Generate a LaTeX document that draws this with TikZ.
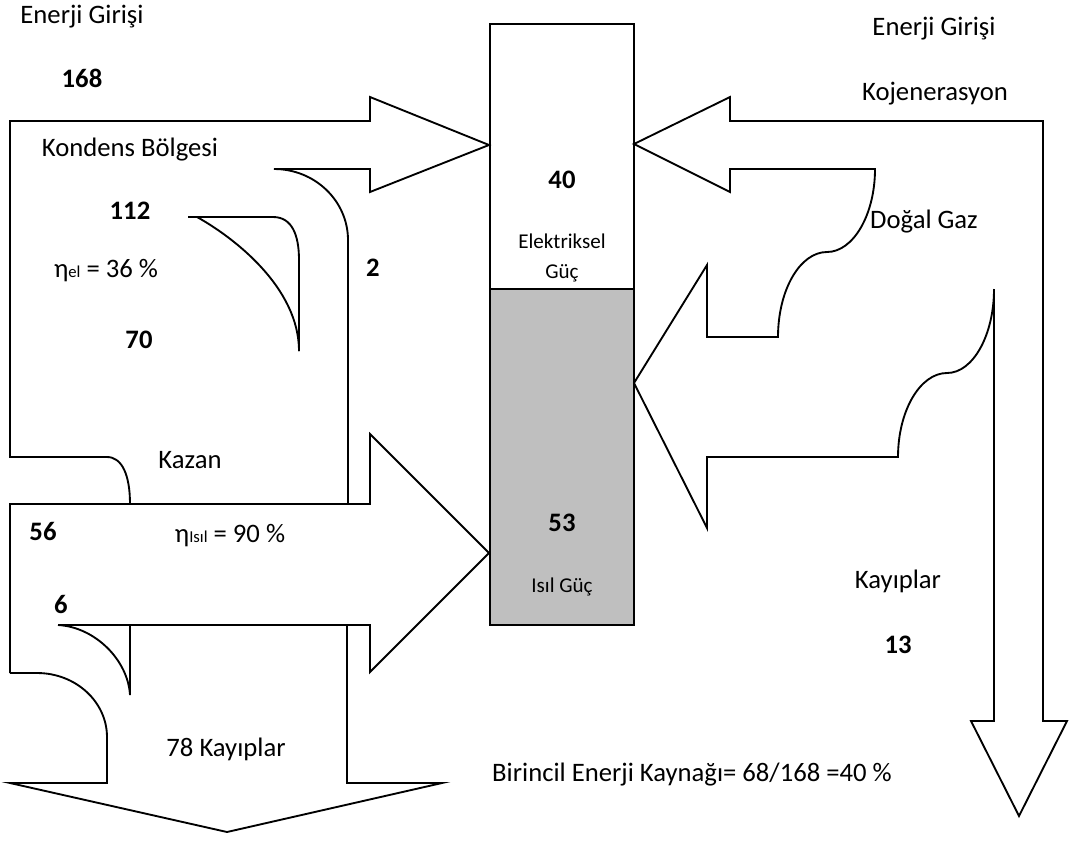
\documentclass[tikz,border=0pt]{standalone}
\usepackage{fontspec}
\setmainfont{Carlito}
\definecolor{heatgray}{RGB}{191,191,191}
\begin{document}
\begin{tikzpicture}[x=0.75pt,y=-0.75pt,
  flow/.style={draw=black,line width=1.4pt,line join=miter},
  lbl/.style={inner sep=0pt,anchor=base,font=\fontsize{20}{24}\selectfont},
  num/.style={inner sep=0pt,anchor=base,font=\fontsize{20}{24}\selectfont\bfseries},
  small/.style={inner sep=0pt,anchor=base,font=\fontsize{15.8}{19}\selectfont}]
\useasboundingbox (0,0) rectangle (1069,843);

% power column: electrical (top) and thermal (bottom)
\draw[flow,fill=white] (490,24) rectangle (634,289);
\draw[flow,fill=heatgray] (490,289) rectangle (634,625);

% condensing plant: electrical arrow with the branch to the losses
\draw[flow] (348,504) -- (348,240) .. controls (348,201) and (315,169) .. (274,169)
  -- (370,169) -- (370,192) -- (489,145) -- (370,97) -- (370,121) -- (10,121)
  -- (10,457) -- (107,457) .. controls (122,457) and (130,475) .. (130,504);
% internal loss hook of the condensing plant
\draw[flow] (188,217) -- (273,217) .. controls (292,217) and (299,235) .. (299,260) -- (299,351);
\draw[flow] (197,217) .. controls (233,237) and (299,287) .. (299,351);

% boiler: thermal arrow
\draw[flow] (10,673) -- (10,504) -- (370,504) -- (370,434) -- (489,553) -- (370,672)
  -- (370,625) -- (58,625);
\draw[flow] (58,625) .. controls (95,627) and (128,660) .. (130,695) -- (130,625);
% common losses arrow
\draw[flow] (10,673) -- (37,673) .. controls (76,673) and (107,702) .. (107,737)
  -- (107,783) -- (10,783) -- (227,832) -- (442,783) -- (347,783) -- (347,625);

% cogeneration: natural gas split into electrical, thermal and losses
\draw[flow] (994,289) -- (994,721) -- (971,721) -- (1019,816) -- (1067,721) -- (1043,721)
  -- (1043,121) -- (730,121) -- (730,97) -- (634,144) -- (730,192) -- (730,169)
  -- (875,169) .. controls (875,215) and (853,252) .. (827,252)
  .. controls (800,252) and (778,290) .. (778,337) -- (707,337) -- (707,265)
  -- (634,383) -- (707,528) -- (707,457) -- (898,457)
  .. controls (898,411) and (920,373) .. (947,373)
  .. controls (973,373) and (994,335) .. (994,289);

% labels, left side
\node[lbl] (inL) at (82,23) {Enerji Girişi};
\node[num] (n168) at (82,87) {168};
\node[lbl] (kond) at (130,156) {Kondens Bölgesi};
\node[num] (n112) at (130,219) {112};
\node[lbl] (etael) at (106,277) {η{\fontsize{12.5}{14}\selectfont el} = 36 \%};
\node[num] (n70) at (139,348) {70};
\node[num] (n2) at (373,276) {2};
\node[lbl] (kazan) at (190,468) {Kazan};
\node[num] (n56) at (43,540) {56};
\node[lbl] (etaisil) at (230,542) {η{\fontsize{12.5}{14}\selectfont Isıl} = 90 \%};
\node[num] (n6) at (61,613) {6};
\node[lbl] (loss78) at (226,756) {78 Kayıplar};

% labels, column
\node[num] (n40) at (562,188) {40};
\node[small] (elek) at (562,248) {Elektriksel};
\node[small] (guc) at (562,278) {Güç};
\node[num] (n53) at (562,531) {53};
\node[small] (isil) at (562,592) {Isıl Güç};

% labels, right side
\node[lbl] (inR) at (934,35) {Enerji Girişi};
\node[lbl] (kojen) at (935,100) {Kojenerasyon};
\node[lbl] (gaz) at (924,228) {Doğal Gaz};
\node[lbl] (lossR) at (898,588) {Kayıplar};
\node[num] (n13) at (898,653) {13};
\node[lbl] (prim) at (692,781) {Birincil Enerji Kaynağı= 68/168 =40 \%};
\end{tikzpicture}
\end{document}
